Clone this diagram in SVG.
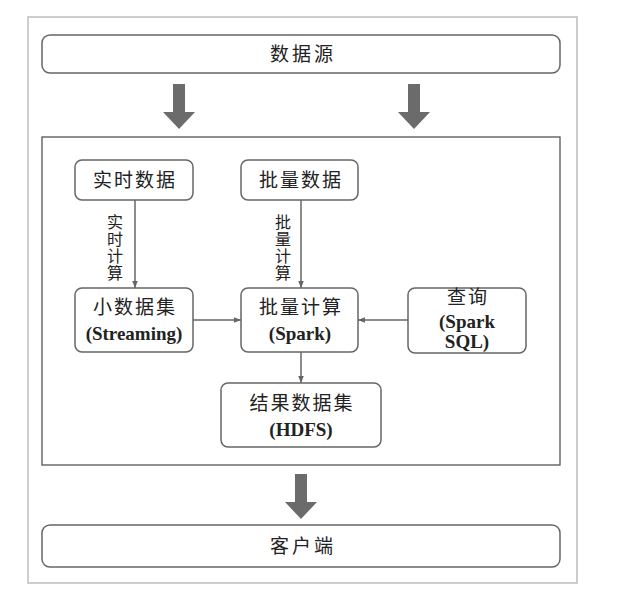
<svg xmlns="http://www.w3.org/2000/svg" width="621" height="604" viewBox="0 0 621 604">
<style>
.frame{fill:#fff;stroke:#bdbdbd;stroke-width:1.5}
.inner{fill:none;stroke:#555;stroke-width:1.3}
.box{fill:#fff;stroke:#666;stroke-width:1.5}
.t{font-family:"Liberation Serif","Noto Sans CJK SC",serif;font-size:19px;fill:#222;text-anchor:middle}
.cn{letter-spacing:2px}
.tb{font-weight:bold;font-size:19px}
.v{font-size:16px}
.big{fill:#6b6b6b}
.conn{stroke:#666;stroke-width:1.5;fill:none;marker-end:url(#ah)}
</style>
<defs>
<marker id="ah" viewBox="0 0 10 10" refX="10" refY="5" markerWidth="7" markerHeight="7" markerUnits="userSpaceOnUse" orient="auto">
<path d="M0,1 L10,5 L0,9 z" fill="#666"/>
</marker>
<path id="bigarrow" d="M-6,0 H6 V28 H16 L0,45 L-16,28 H-6 Z"/>
</defs>
<rect width="621" height="604" fill="#fff"/>
<rect class="frame" x="28" y="17" width="549" height="566"/>
<g id="datasource">
<rect class="box" x="42" y="35" width="518" height="38" rx="8"/>
<text class="t cn" x="303" y="61" style="letter-spacing:3px">数据源</text>
</g>
<g id="big-arrows" class="big">
<use href="#bigarrow" x="179" y="84"/>
<use href="#bigarrow" x="414" y="84"/>
<use href="#bigarrow" x="301" y="474"/>
</g>
<rect class="inner" x="42" y="137" width="518" height="328"/>
<g id="realtime">
<rect class="box" x="75" y="160" width="118" height="40" rx="7"/>
<text class="t cn" x="135" y="187">实时数据</text>
</g>
<g id="batchdata">
<rect class="box" x="241" y="160" width="117" height="40" rx="7"/>
<text class="t cn" x="301" y="187">批量数据</text>
</g>
<g id="smalldataset">
<rect class="box" x="75" y="288" width="118" height="64" rx="7"/>
<text class="t cn" x="135" y="314">小数据集</text>
<text class="t tb" x="134" y="340">(Streaming)</text>
</g>
<g id="batchcompute">
<rect class="box" x="241" y="288" width="117" height="64" rx="7"/>
<text class="t cn" x="301" y="314">批量计算</text>
<text class="t tb" x="300" y="340">(Spark)</text>
</g>
<g id="query">
<rect class="box" x="408" y="288" width="118" height="65" rx="7"/>
<text class="t cn" x="468" y="304">查询</text>
<text class="t tb" x="467" y="328">(Spark</text>
<text class="t tb" x="467" y="348">SQL)</text>
</g>
<g id="result">
<rect class="box" x="221" y="383" width="160" height="64" rx="7"/>
<text class="t cn" x="302" y="410">结果数据集</text>
<text class="t tb" x="301" y="436">(HDFS)</text>
</g>
<g id="client">
<rect class="box" x="42" y="525" width="518" height="42" rx="8"/>
<text class="t cn" x="303" y="553" style="letter-spacing:3px">客户端</text>
</g>
<g id="connectors">
<line class="conn" x1="135" y1="200" x2="135" y2="288"/>
<line class="conn" x1="301" y1="200" x2="301" y2="288"/>
<line class="conn" x1="193" y1="320" x2="241" y2="320"/>
<line class="conn" x1="408" y1="320" x2="358" y2="320"/>
<line class="conn" x1="301" y1="352" x2="301" y2="383"/>
</g>
<g id="labels">
<text class="t v" x="115" y="228">实</text>
<text class="t v" x="115" y="245">时</text>
<text class="t v" x="115" y="262">计</text>
<text class="t v" x="115" y="279">算</text>
<text class="t v" x="283" y="228">批</text>
<text class="t v" x="283" y="245">量</text>
<text class="t v" x="283" y="262">计</text>
<text class="t v" x="283" y="279">算</text>
</g>
</svg>
